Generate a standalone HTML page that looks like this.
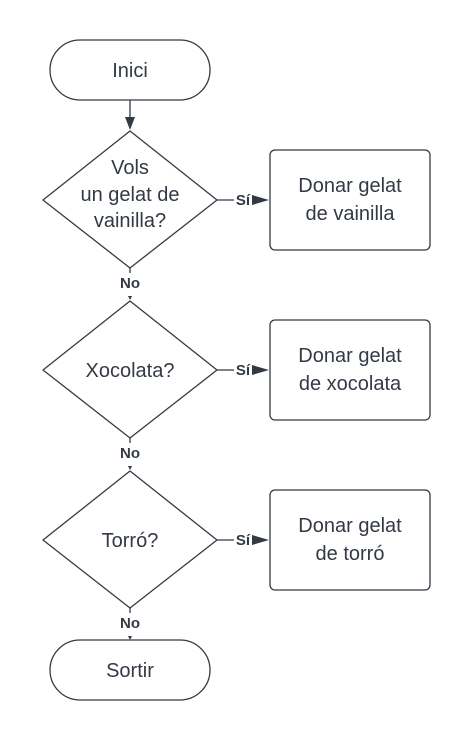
<!DOCTYPE html>
<html><head><meta charset="utf-8"><style>
html,body{margin:0;padding:0;background:#fff;}
svg{display:block;}
text{font-family:"Liberation Sans",sans-serif;fill:#333a45;}
</style></head><body>
<svg width="470" height="740" viewBox="0 0 470 740" xmlns="http://www.w3.org/2000/svg">
<g fill="#fff" stroke="#333a45" stroke-width="1.3">
<rect x="50" y="40" width="160" height="60" rx="30"/>
<rect x="50" y="640" width="160" height="60" rx="30"/>
<path d="M130 131 L217 200 L130 268 L43 200 Z" stroke-linejoin="round"/>
<path d="M130 301 L217 370 L130 438 L43 370 Z" stroke-linejoin="round"/>
<path d="M130 471 L217 540 L130 608 L43 540 Z" stroke-linejoin="round"/>
<rect x="270" y="150" width="160" height="100" rx="5"/>
<rect x="270" y="320" width="160" height="100" rx="5"/>
<rect x="270" y="490" width="160" height="100" rx="5"/>
</g>
<g stroke="#333a45" stroke-width="1.3" fill="none">
<line x1="130" y1="100" x2="130" y2="118"/>
<line x1="217" y1="200" x2="234" y2="200"/>
<line x1="217" y1="370" x2="234" y2="370"/>
<line x1="217" y1="540" x2="234" y2="540"/>
<line x1="130" y1="268" x2="130" y2="273"/>
<line x1="130" y1="438" x2="130" y2="443"/>
<line x1="130" y1="608" x2="130" y2="613"/>
</g>
<g fill="#333a45">
<path d="M125 117 L135 117 L130 130 Z"/>
<path d="M252 195 L269 200 L252 205 Z"/>
<path d="M252 365 L269 370 L252 375 Z"/>
<path d="M252 535 L269 540 L252 545 Z"/>
<path d="M128 296 L132 296 L130 300 Z"/>
<path d="M128 466 L132 466 L130 470 Z"/>
<path d="M128 636 L132 636 L130 640 Z"/>
</g>
<g font-size="20" text-anchor="middle">
<text x="130" y="77">Inici</text>
<text x="130" y="677">Sortir</text>
<text x="130" y="174">Vols</text>
<text x="130" y="201">un gelat de</text>
<text x="130" y="227">vainilla?</text>
<text x="130" y="377">Xocolata?</text>
<text x="130" y="547">Torró?</text>
<text x="350" y="192">Donar gelat</text>
<text x="350" y="220">de vainilla</text>
<text x="350" y="362">Donar gelat</text>
<text x="350" y="390">de xocolata</text>
<text x="350" y="532">Donar gelat</text>
<text x="350" y="560">de torró</text>
</g>
<g font-size="15" font-weight="bold" text-anchor="middle">
<text x="243" y="205">Sí</text>
<text x="243" y="375">Sí</text>
<text x="243" y="545">Sí</text>
<text x="130" y="288">No</text>
<text x="130" y="458">No</text>
<text x="130" y="628">No</text>
</g>
</svg>
</body></html>
